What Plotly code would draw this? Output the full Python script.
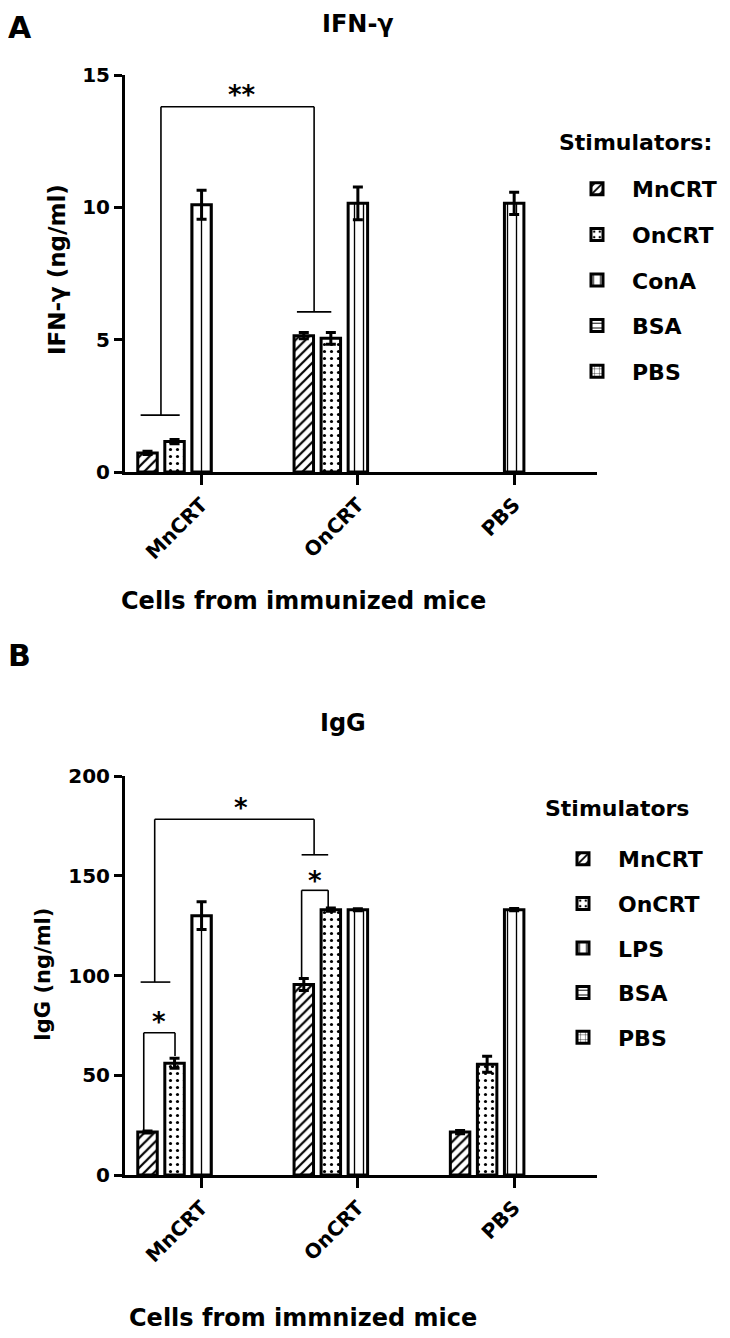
import plotly.graph_objects as go

# the page body has an 8px default margin, so the figure is drawn 8px in from the window edge
OFF = 8
W, H = 730 - OFF, 1338 - OFF
FONT = "DejaVu Sans, Liberation Sans, Arial, sans-serif"

# ---------------- data ----------------
groups = ["MnCRT", "OnCRT", "PBS"]

stim_a = ["MnCRT", "OnCRT", "ConA", "BSA", "PBS"]
ifn_mncrt = [0.72, 5.15, None]
ifn_mncrt_err = [0.06, 0.12, None]
ifn_oncrt = [1.15, 5.05, None]
ifn_oncrt_err = [0.08, 0.22, None]
ifn_cona = [10.1, 10.15, 10.15]
ifn_cona_err = [0.55, 0.62, 0.42]
ifn_bsa = [None, None, None]
ifn_pbs = [None, None, None]

stim_b = ["MnCRT", "OnCRT", "LPS", "BSA", "PBS"]
igg_mncrt = [21.5, 95.5, 21.5]
igg_mncrt_err = [0.5, 3.0, 0.8]
igg_oncrt = [56.0, 133.0, 55.5]
igg_oncrt_err = [2.5, 0.8, 4.0]
igg_lps = [130.0, 133.0, 133.0]
igg_lps_err = [7.0, 0.5, 0.6]
igg_bsa = [None, None, None]
igg_pbs = [None, None, None]

yticks_a = [0, 5, 10, 15]
yticks_b = [0, 50, 100, 150, 200]

# ---------------- styles ----------------
patterns = [
    dict(shape="/", size=7, solidity=0.32),
    dict(shape=".", size=7, solidity=0.16),
    dict(shape="|", size=9, solidity=0.15),
    dict(shape="-", size=6, solidity=0.2),
    dict(shape="+", size=6, solidity=0.15),
]


def sx(x):
    return (x - OFF) / W


def sy(y):
    return 1 - (y - OFF) / H


fig = go.Figure()

series_a = [
    (ifn_mncrt, ifn_mncrt_err), (ifn_oncrt, ifn_oncrt_err), (ifn_cona, ifn_cona_err),
    (ifn_bsa, None), (ifn_pbs, None),
]
series_b = [
    (igg_mncrt, igg_mncrt_err), (igg_oncrt, igg_oncrt_err), (igg_lps, igg_lps_err),
    (igg_bsa, None), (igg_pbs, None),
]

for panel, (names, series, xa, ya, leg) in enumerate([
    (stim_a, series_a, "x", "y", "legend"),
    (stim_b, series_b, "x2", "y2", "legend2"),
]):
    for k, (name, (vals, err)) in enumerate(zip(names, series)):
        pat = dict(patterns[k], fgcolor="black", bgcolor="white", fillmode="replace")
        fig.add_trace(go.Bar(
            x=groups, y=vals, name=name, xaxis=xa, yaxis=ya,
            legend=leg, legendgroup=f"{panel}-{k}",
            marker=dict(color="white", pattern=pat, line=dict(color="black", width=3)),
            error_y=dict(type="data", array=err, visible=err is not None,
                         color="black", thickness=3, width=5),
            offsetgroup=str(k),
        ))

# ---------------- significance brackets ----------------
brackets_a = [
    dict(h=(-0.26, 0.72, 13.8), legs=[(-0.26, 13.8, 2.15), (0.72, 13.8, 6.05)],
         feet=[(-0.39, -0.14, 2.15), (0.61, 0.83, 6.05)], star=("**", 0.26, 14.25)),
]
brackets_b = [
    dict(h=(-0.30, 0.72, 178.3), legs=[(-0.30, 178.3, 96.7), (0.72, 178.3, 160.5)],
         feet=[(-0.39, -0.20, 96.7), (0.64, 0.81, 160.5)], star=("*", 0.25, 184.0)),
    dict(h=(0.64, 0.81, 142.7), legs=[(0.64, 142.7, 99.0), (0.81, 142.7, 133.8)],
         feet=[], star=("*", 0.725, 147.5)),
    dict(h=(-0.37, -0.17, 71.3), legs=[(-0.37, 71.3, 22.2), (-0.17, 71.3, 59.7)],
         feet=[], star=("*", -0.27, 76.5)),
]

for brs, xr, yr in [(brackets_a, "x", "y"), (brackets_b, "x2", "y2")]:
    for b in brs:
        x0, x1, yy = b["h"]
        line = dict(color="black", width=1.6)
        fig.add_shape(type="line", xref=xr, yref=yr, x0=x0, x1=x1, y0=yy, y1=yy, line=line)
        for (lx, ly0, ly1) in b["legs"]:
            fig.add_shape(type="line", xref=xr, yref=yr, x0=lx, x1=lx, y0=ly0, y1=ly1, line=line)
        for (fx0, fx1, fy) in b["feet"]:
            fig.add_shape(type="line", xref=xr, yref=yr, x0=fx0, x1=fx1, y0=fy, y1=fy, line=line)
        txt_, stx, sty = b["star"]
        fig.add_annotation(x=stx, y=sty, xref=xr, yref=yr, text=txt_, showarrow=False,
                           yanchor="middle", font=dict(family=FONT, size=26, color="black", weight="bold"))

# ---------------- axes ----------------
xdom = [sx(125), sx(597)]
dom_a = [sy(472), sy(75)]
dom_b = [sy(1175), sy(776)]
xrange = [-0.49, 2.53]
ytickfont = dict(family=FONT, size=20, color="black", weight="bold")
xtickfont = dict(family=FONT, size=20, color="black", weight="bold")

common_x = dict(range=xrange, showline=True, linewidth=3, linecolor="black", ticks="outside",
                ticklen=10, tickwidth=3, tickcolor="black", tickangle=-45, tickfont=xtickfont,
                showgrid=False, zeroline=False, fixedrange=True, automargin=False)
common_y = dict(showline=True, linewidth=3, linecolor="black", ticks="outside", ticklen=8,
                tickwidth=3, tickcolor="black", tickfont=ytickfont, showgrid=False,
                zeroline=False, fixedrange=True, automargin=False)

fig.update_layout(
    xaxis=dict(common_x, domain=xdom, anchor="y", categoryorder="array", categoryarray=groups),
    yaxis=dict(common_y, domain=dom_a, anchor="x", range=[0, 15], tickvals=yticks_a),
    xaxis2=dict(common_x, domain=xdom, anchor="y2", categoryorder="array", categoryarray=groups),
    yaxis2=dict(common_y, domain=dom_b, anchor="x2", range=[0, 200], tickvals=yticks_b),
)

# ---------------- texts ----------------
def txt(x, y, text, size, angle=0, xanchor="center", yanchor="middle"):
    fig.add_annotation(x=sx(x), y=sy(y), xref="paper", yref="paper", text=text, showarrow=False,
                       textangle=angle, xanchor=xanchor, yanchor=yanchor,
                       font=dict(family=FONT, size=size, color="black", weight="bold"))

txt(6, OFF, "A", 30, xanchor="left", yanchor="top")
txt(358, OFF, "IFN-γ", 24, yanchor="top")
txt(57, 270, "IFN-γ (ng/ml)", 23, angle=-90)
txt(303, 601, "Cells from immunized mice", 24)

txt(6, 655, "B", 30, xanchor="left")
txt(343, 723, "IgG", 24)
txt(43, 975, "IgG (ng/ml)", 21, angle=-90)
txt(303, 1318, "Cells from immnized mice", 24)

txt(557, 143, "Stimulators:", 22, xanchor="left")
txt(543, 808, "Stimulators", 22, xanchor="left")

legfont = dict(family=FONT, size=22, color="black", weight="bold")
fig.update_layout(
    legend=dict(x=sx(562), y=sy(168), xanchor="left", yanchor="top", font=legfont,
                traceorder="grouped", tracegroupgap=14, itemwidth=60,
                bgcolor="rgba(0,0,0,0)", itemclick=False),
    legend2=dict(x=sx(548), y=sy(838), xanchor="left", yanchor="top", font=legfont,
                 traceorder="grouped", tracegroupgap=13, itemwidth=60,
                 bgcolor="rgba(0,0,0,0)", itemclick=False),
    barmode="group", bargap=0.135, bargroupgap=0.28,
    width=W, height=H, margin=dict(l=0, r=0, t=0, b=0),
    plot_bgcolor="white", paper_bgcolor="white", showlegend=True,
)

fig.write_html("out.html")
